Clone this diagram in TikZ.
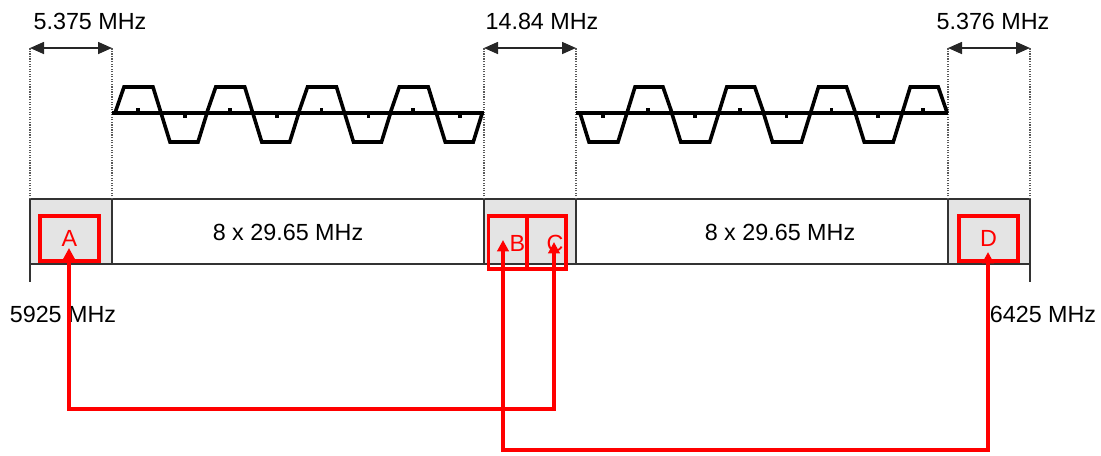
\documentclass[tikz,border=0pt]{standalone}
\usepackage{fontspec}
\setmainfont{Liberation Sans}
\usepackage{xcolor}
\usepackage{tikz}
\usetikzlibrary{arrows.meta,positioning}

\definecolor{bandgray}{RGB}{228,228,228}
\definecolor{sigred}{RGB}{255,0,0}

\begin{document}
\begin{tikzpicture}[x=0.75pt,y=-0.75pt,
  every node/.style={font=\fontsize{17.5}{20}\selectfont},
  seg/.style={draw=black!80, line width=1.1pt, inner sep=0pt, outer sep=0pt, minimum height=48.75pt},
  rule/.style={black!80, line width=1.1pt},
  guide/.style={black!65, densely dotted, line width=0.9pt},
  dim/.style={{Triangle[length=10.5pt,width=9pt]}-{Triangle[length=10.5pt,width=9pt]}, line width=1.2pt, black!85},
  wave/.style={line width=2.7pt, line join=miter},
  chbox/.style={draw=sigred, line width=2.6pt, inner sep=0pt, text=sigred},
  link/.style={sigred, line width=2.6pt, {Triangle[length=8.5pt,width=8.5pt]}-{Triangle[length=8.5pt,width=8.5pt]}}]
				\useasboundingbox (0,0) rectangle (1101,455);

				% frequency band
				\node[seg, fill=bandgray, minimum width=61.5pt, anchor=north west] (segL) at (30,199) {};
				\node[seg, minimum width=279pt, right=0pt of segL] (chanL) {};
				\node[seg, fill=bandgray, minimum width=69pt, right=0pt of chanL] (segM) {};
				\node[seg, minimum width=279pt, right=0pt of segM] (chanR) {};
				\node[seg, fill=bandgray, minimum width=61.5pt, right=0pt of chanR] (segR) {};

				\node (bwL) at (288,232) {8 x 29.65 MHz};
				\node (bwR) at (780,232) {8 x 29.65 MHz};

				\draw[rule] (segL.south west) -- ++(0,18);
				\draw[rule] (segR.south east) -- ++(0,18);

				\node (fLo) at (63,314) {5925 MHz};
				\node (fHi) at (1043,314) {6425 MHz};

				% guard band widths
				\coordinate (dimtop) at (0,48);
				\draw[guide] (segL.north west) -- (segL.north west |- dimtop);
				\draw[guide] (segL.north east) -- (segL.north east |- dimtop);
				\draw[guide] (segM.north west) -- (segM.north west |- dimtop);
				\draw[guide] (segM.north east) -- (segM.north east |- dimtop);
				\draw[guide] (segR.north west) -- (segR.north west |- dimtop);
				\draw[guide] (segR.north east) -- (segR.north east |- dimtop);

				\draw[dim] (segL.north west |- dimtop) -- (segL.north east |- dimtop);
				\draw[dim] (segM.north west |- dimtop) -- (segM.north east |- dimtop);
				\draw[dim] (segR.north west |- dimtop) -- (segR.north east |- dimtop);

				\node (gapL) at (90,21) {5.375 MHz};
				\node (gapM) at (542,21) {14.84 MHz};
				\node (gapR) at (993,21) {5.376 MHz};

				% transponder channels
				\coordinate (waveaxis) at (0,113);
				\draw[wave] (segL.north east |- waveaxis) -- (segM.north west |- waveaxis);
				\draw[wave] (segM.north east |- waveaxis) -- (segR.north west |- waveaxis);

				\foreach \s in {115,206.75,298.5,390.25} {
					\draw[wave] (\s,113) -- ++(9,-26) -- ++(29,0) -- ++(17,55) -- ++(28,0) -- ++(9,-29);
					\draw[wave] (\s+23,113) -- ++(0,-5);
					\draw[wave] (\s+70,113) -- ++(0,5);
				}
				\foreach \s in {580,671.75,763.5,855.25} {
					\draw[wave] (\s,113) -- ++(9,29) -- ++(29,0) -- ++(17,-55) -- ++(28,0) -- ++(9,26);
					\draw[wave] (\s+23,113) -- ++(0,5);
					\draw[wave] (\s+68,113) -- ++(0,-5);
				}

				% beacon slots
				\node[chbox, minimum width=44.25pt, minimum height=33.75pt] (boxA) at (69.5,238.5) {A};
				\node[chbox, minimum width=28.9pt, minimum height=39.75pt] (boxB) at (507.75,242.5) {};
				\node[chbox, minimum width=29.25pt, minimum height=39.75pt] (boxC) at (546.5,242.5) {};
				\node[chbox, minimum width=44.25pt, minimum height=33.75pt] (boxD) at (988.5,238.5) {D};
				\node[text=sigred] (lblB) at (517.5,243) {B};
				\node[text=sigred] (lblC) at (555,243) {C};

				\coordinate (tipA) at (69,248);
				\coordinate (tipB) at (503,240);
				\coordinate (tipC) at (554,242);
				\coordinate (tipD) at (988,252);
				\coordinate (loopAC) at (0,409);
				\coordinate (loopBD) at (0,450);

				\draw[link] (tipA) -- (tipA |- loopAC) -- (tipC |- loopAC) -- (tipC);
				\draw[link] (tipB) -- (tipB |- loopBD) -- (tipD |- loopBD) -- (tipD);

\end{tikzpicture}
\end{document}
